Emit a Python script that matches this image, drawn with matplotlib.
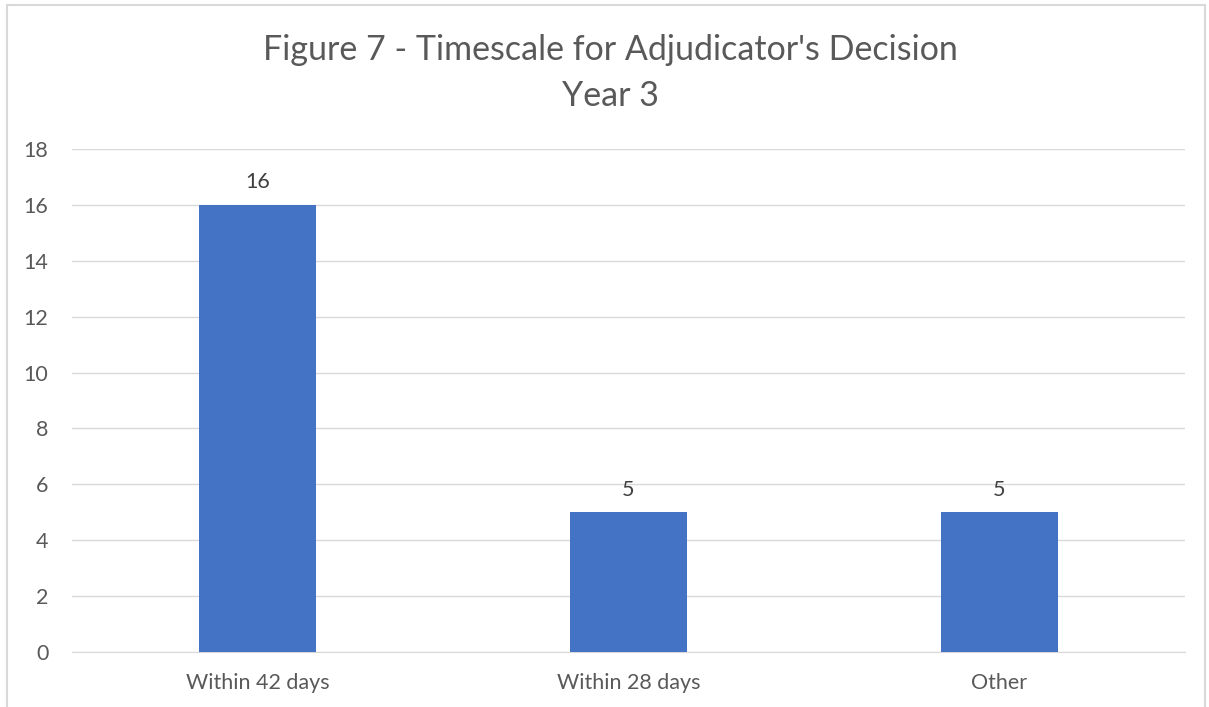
import matplotlib.pyplot as plt
from matplotlib.patches import Rectangle

categories = ['Within 42 days', 'Within 28 days', 'Other']
values = [16, 5, 5]
yticks = [0, 2, 4, 6, 8, 10, 12, 14, 16, 18]

plt.rcParams['font.family'] = ['Lato', 'DejaVu Sans']

fig = plt.figure(figsize=(12.09, 7.07), dpi=100)
ax = fig.add_axes([72/1209, 1-652/707, (1185-72)/1209, (652-149)/707])

# border round the chart like excel
fig.patches.append(Rectangle((7/1209, -0.02), (1205-7)/1209, 1.02-5/707,
                             transform=fig.transFigure, fill=False,
                             edgecolor='#d9d9d9', linewidth=1.5))

x = range(len(categories))
bars = ax.bar(x, values, width=0.314, color='#4472C4', zorder=3)
for b, v in zip(bars, values):
    ax.text(b.get_x()+b.get_width()/2, v+0.45, str(v), ha='center', va='bottom',
            fontsize=15.5, color='#404040')

ax.set_xlim(-0.5, 2.5)
ax.set_ylim(0, 18)
ax.set_yticks(yticks)
ax.set_xticks(list(x))
ax.set_xticklabels(categories)
ax.grid(axis='y', color='#d9d9d9', linewidth=1, zorder=0)
for s in ['top', 'right', 'left']:
    ax.spines[s].set_visible(False)
ax.spines['bottom'].set_color('#d9d9d9')
ax.tick_params(axis='both', length=0, labelsize=15.5, colors='#595959')
ax.tick_params(axis='y', pad=17)
ax.tick_params(axis='x', pad=15)

fig.text(610/1209, 1-50/707, "Figure 7 - Timescale for Adjudicator's Decision",
         ha='center', va='center', fontsize=24.5, color='#595959')
fig.text(610/1209, 1-96/707, "Year 3", ha='center', va='center',
         fontsize=24.5, color='#595959')

fig.savefig('out.png', dpi=100)
